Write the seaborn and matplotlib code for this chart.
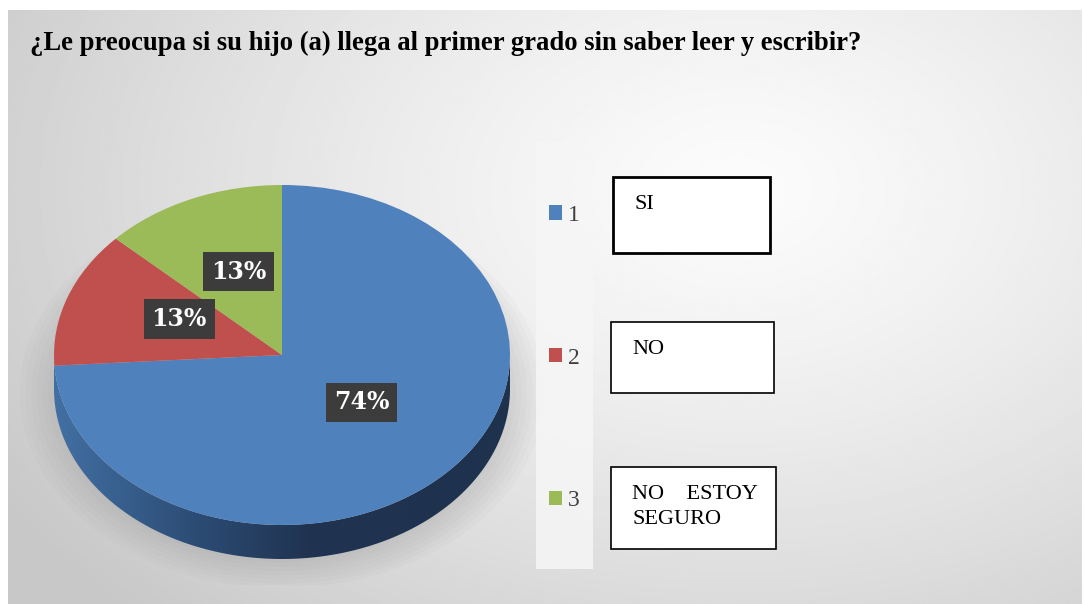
import numpy as np
import matplotlib
matplotlib.use("Agg")
import matplotlib.pyplot as plt
from matplotlib.patches import Rectangle, Polygon, Ellipse
from matplotlib.colors import LinearSegmentedColormap
import seaborn as sns

title = "¿Le preocupa si su hijo (a) llega al primer grado sin saber leer y escribir?"
categories = ["1", "2", "3"]
answers = ["SI", "NO", "NO    ESTOY\nSEGURO"]
shares = [74, 13, 13]
colors = ["#4f81bd", "#c0504d", "#9bbb59"]

sns.set_theme(style="white")
plt.rcParams['font.family'] = ['Liberation Serif', 'DejaVu Serif']

W, H = 1084, 604
fig = plt.figure(figsize=(W / 100, H / 100), dpi=100)


def px_axes(x0, y0, x1, y1):
    # axes placed by pixel box, y measured from the top
    return fig.add_axes([x0 / W, 1 - y1 / H, (x1 - x0) / W, (y1 - y0) / H])


# soft radial grey background
bg = px_axes(8, 10, 1082, 604)
yy, xx = np.mgrid[0:1:300j, 0:1:540j]
r = np.sqrt(((xx - 0.68) / 0.8) ** 2 + ((yy - 0.3) / 1.0) ** 2)
shade = 0.985 - 0.2 * np.clip(r, 0, 1) ** 1.3
bg.imshow(shade, cmap="gray", vmin=0, vmax=1, extent=[0, 1, 0, 1],
          aspect="auto", origin="upper")
bg.axis("off")

# pie, squashed into an ellipse to look tilted
cx, cy, rx, ry, depth = 282, 355, 228, 170, 0.2
lim = 1.15
ax = px_axes(cx - lim * rx, cy - lim * ry, cx + lim * rx, cy + (lim + depth) * ry)

for k in range(7):
    s = 1.0 + 0.025 * k
    ax.add_patch(Ellipse((0, -depth - 0.02), 2 * s, 2 * s, fc="#7a7a7a",
                         ec="none", alpha=0.035, zorder=0))

t = np.linspace(np.pi, 2 * np.pi, 200)
side = np.concatenate([
    np.column_stack([np.cos(t), np.sin(t) - depth]),
    np.column_stack([np.cos(t[::-1]), np.sin(t[::-1])]),
])
side_patch = Polygon(side, closed=True, fc="none", ec="none")
ax.add_patch(side_patch)
side_cmap = LinearSegmentedColormap.from_list(
    "side", [(0, "#4270a3"), (0.3, "#2d4d76"), (0.55, "#203452"), (1, "#1e314d")])
grad = np.linspace(0, 1, 256)[None, :]
im = ax.imshow(grad, cmap=side_cmap, extent=[-1, 1, -1 - depth, 0],
               aspect="auto", zorder=1)
im.set_clip_path(side_patch)

wedges, texts, autotexts = ax.pie(
    shares, colors=colors, startangle=90, counterclock=False,
    autopct="%1.0f%%", pctdistance=0.48,
    wedgeprops=dict(linewidth=0, zorder=2),
    textprops=dict(color="white", fontsize=17, fontweight="bold",
                   family="DejaVu Serif"))
for at in autotexts:
    x, y = at.get_position()
    at.set_position((x, y + 0.05))
    at.set_zorder(5)
    at.set_bbox(dict(boxstyle="square,pad=0.33", fc="#3c3c3c", ec="none"))
ax.set_aspect("auto")
ax.set_xlim(-lim, lim)
ax.set_ylim(-lim - depth, lim)
ax.axis("off")

# overlay in pixel coordinates for title, legend panel and answer boxes
ov = fig.add_axes([0, 0, 1, 1])
ov.set_xlim(0, W)
ov.set_ylim(H, 0)
ov.axis("off")

ov.text(30, 43, title, fontsize=19.2, fontweight="bold", va="center",
        ha="left", color="black")

ov.add_patch(Rectangle((536, 142), 57, 427, fc="#f6f6f6", ec="none", alpha=0.85))
ov.legend(wedges, categories, loc="center", bbox_to_anchor=(564 / W, 1 - 358 / H),
          bbox_transform=fig.transFigure, frameon=False, fontsize=17,
          labelspacing=5.15, handlelength=0.55, handleheight=0.55,
          handletextpad=0.25, labelcolor="#404040")

boxes = [(613, 177, 157, 76, 2.0), (611, 322, 163, 71, 1.2), (611, 467, 165, 82, 1.2)]
for (bx, by, bw, bh, lw), label in zip(boxes, answers):
    ov.add_patch(Rectangle((bx, by), bw, bh, fc="white", ec="black", lw=lw))
    ov.text(bx + 21, by + 18, label, fontsize=16, va="top", ha="left",
            color="black", linespacing=1.42)

fig.savefig("out.png", dpi=100)
